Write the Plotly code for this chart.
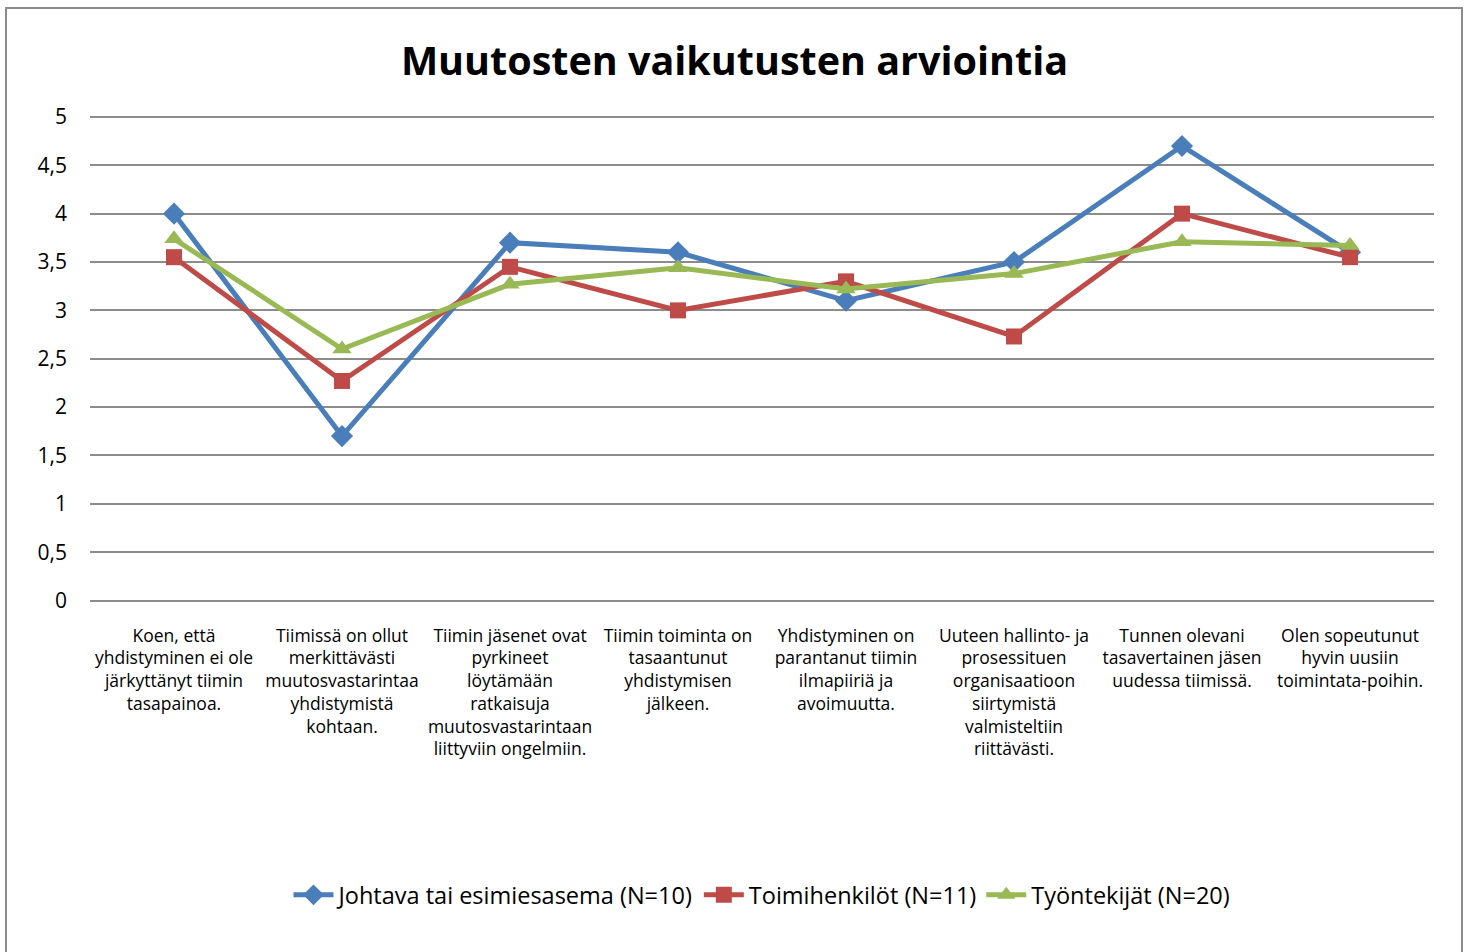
import plotly.graph_objects as go

categories = [
    "Koen, että<br>yhdistyminen ei ole<br>järkyttänyt tiimin<br>tasapainoa.",
    "Tiimissä on ollut<br>merkittävästi<br>muutosvastarintaa<br>yhdistymistä<br>kohtaan.",
    "Tiimin jäsenet ovat<br>pyrkineet<br>löytämään<br>ratkaisuja<br>muutosvastarintaan<br>liittyviin ongelmiin.",
    "Tiimin toiminta on<br>tasaantunut<br>yhdistymisen<br>jälkeen.",
    "Yhdistyminen on<br>parantanut tiimin<br>ilmapiiriä ja<br>avoimuutta.",
    "Uuteen hallinto- ja<br>prosessituen<br>organisaatioon<br>siirtymistä<br>valmisteltiin<br>riittävästi.",
    "Tunnen olevani<br>tasavertainen jäsen<br>uudessa tiimissä.",
    "Olen sopeutunut<br>hyvin uusiin<br>toimintata-poihin.",
]

johtava = [4.0, 1.7, 3.7, 3.6, 3.1, 3.5, 4.7, 3.6]
toimihenkilot = [3.55, 2.27, 3.45, 3.0, 3.3, 2.73, 4.0, 3.55]
tyontekijat = [3.74, 2.6, 3.27, 3.44, 3.22, 3.38, 3.71, 3.67]

series_names = ["Johtava tai esimiesasema (N=10)", "Toimihenkilöt (N=11)", "Työntekijät (N=20)"]
colors = ["#4A7EBB", "#BE4B48", "#98B954"]
symbols = ["diamond", "square", "triangle-up"]

fig = go.Figure()
for name, vals, col, sym in zip(series_names, [johtava, toimihenkilot, tyontekijat], colors, symbols):
    fig.add_trace(go.Scatter(
        x=list(range(len(categories))), y=vals, name=name, mode="lines+markers",
        line=dict(color=col, width=5),
        marker=dict(symbol=sym, size=17 if sym != "square" else 16, color=col),
    ))

W, H = 1469, 952
L, R, T, B = 90, 1434, 115, 601
pw, ph = R - L, B - T

fig.update_layout(
    width=W, height=H,
    margin=dict(l=L, r=W - R, t=T, b=H - B),
    paper_bgcolor="white", plot_bgcolor="white",
    separators=", ",
    font=dict(family="Open Sans", color="black"),
    title=dict(text="<b>Muutosten vaikutusten arviointia</b>", x=0.5, xanchor="center",
               y=1 - 61 / H, yanchor="middle", font=dict(size=39.5, family="Open Sans", color="black")),
    xaxis=dict(
        range=[-0.5, len(categories) - 0.5],
        tickmode="array", tickvals=list(range(len(categories))), ticktext=categories,
        showgrid=False, zeroline=False, showline=False, ticks="",
        tickfont=dict(size=17.5, family="Open Sans"), tickangle=0,
        ticklabelstandoff=22,
    ),
    yaxis=dict(
        range=[-0.005, 5.02], dtick=0.5, tick0=0,
        showgrid=True, gridcolor="#8C8C8C", gridwidth=2,
        zeroline=True, zerolinecolor="#8C8C8C", zerolinewidth=2,
        showline=False, ticks="", tickfont=dict(size=21, family="Open Sans"),
        ticklabelstandoff=22,
    ),
    legend=dict(orientation="h", x=0.5, xanchor="center", y=(B - 895) / ph, yanchor="middle",
                font=dict(size=23.5, family="Open Sans"), itemwidth=40, traceorder="normal"),
    showlegend=True,
    shapes=[dict(type="rect", xref="paper", yref="paper",
                 x0=(6 - L) / pw, x1=(1462 - L) / pw, y0=(B - 965) / ph, y1=(B - 8) / ph,
                 line=dict(color="#8C8C8C", width=2), fillcolor="rgba(0,0,0,0)", layer="below")],
)

fig.write_html("out.html", config={"displayModeBar": False},
               post_script="document.body.style.margin='0';")
